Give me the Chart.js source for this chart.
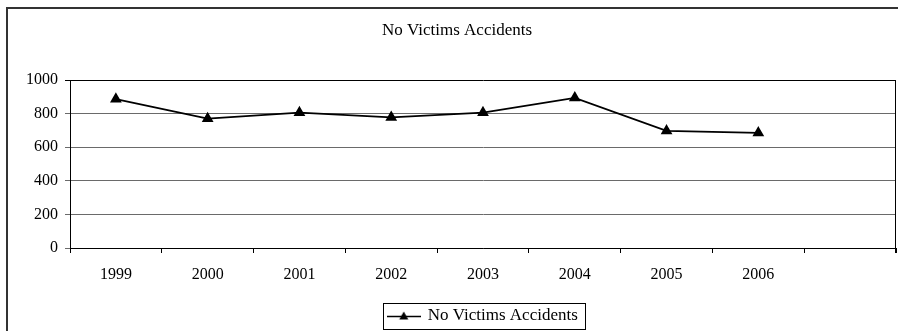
<!DOCTYPE html>
<html>
<head>
<meta charset="utf-8">
<script src="https://cdn.jsdelivr.net/npm/chart.js@4.4.1/dist/chart.umd.min.js"></script>
<style>
    body { margin: 0; background: #fff; }
    canvas { display: block; }
</style>
</head>
<body>
<canvas id="chart" width="898" height="331"></canvas>
<script>
// Data
const years = ["1999", "2000", "2001", "2002", "2003", "2004", "2005", "2006", ""];
const accidents = [886, 770, 806, 778, 806, 894, 697, 685];
const yTicks = [0, 200, 400, 600, 800, 1000];
const seriesName = "No Victims Accidents";

const serif = "'Liberation Serif', 'Times New Roman', serif";

// legend marker: line with a triangle
const marker = document.createElement("canvas");
marker.width = 34;
marker.height = 12;
const mctx = marker.getContext("2d");
mctx.strokeStyle = "#000";
mctx.lineWidth = 1.5;
mctx.beginPath();
mctx.moveTo(0, 6.5);
mctx.lineTo(34, 6.5);
mctx.stroke();
mctx.fillStyle = "#000";
mctx.beginPath();
mctx.moveTo(17, 1.5);
mctx.lineTo(21.5, 9.5);
mctx.lineTo(12.5, 9.5);
mctx.closePath();
mctx.fill();

// outer frame, plot border and legend box
const framePlugin = {
    id: "frame",
    beforeDraw(chart) {
        const ctx = chart.ctx;
        ctx.save();
        ctx.fillStyle = "#fff";
        ctx.fillRect(0, 0, chart.width, chart.height);
        ctx.strokeStyle = "#333";
        ctx.lineWidth = 2;
        ctx.beginPath();
        ctx.moveTo(7, chart.height);
        ctx.lineTo(7, 8);
        ctx.lineTo(chart.width, 8);
        ctx.stroke();
        ctx.restore();
    },
    afterDraw(chart) {
        const ctx = chart.ctx;
        const a = chart.chartArea;
        ctx.save();
        ctx.strokeStyle = "#000";
        ctx.lineWidth = 1;
        ctx.beginPath();
        ctx.moveTo(Math.round(a.right) - 0.5, a.top);
        ctx.lineTo(Math.round(a.right) - 0.5, a.bottom + 5);
        ctx.stroke();
        const hb = chart.legend.legendHitBoxes[0];
        if (hb) {
            const cy = hb.top + hb.height / 2;
            ctx.strokeRect(Math.round(hb.left - 5) + 0.5, Math.round(cy - 13) + 0.5,
                Math.round(hb.width + 12), 26);
        }
        ctx.restore();
    }
};

new Chart(document.getElementById("chart"), {
    type: "line",
    data: {
        labels: years,
        datasets: [{
            label: seriesName,
            data: accidents,
            borderColor: "#000",
            backgroundColor: "#000",
            borderWidth: 1.8,
            pointStyle: "triangle",
            pointRadius: 5,
            pointHoverRadius: 5,
            tension: 0
        }]
    },
    options: {
        responsive: false,
        animation: false,
        layout: { autoPadding: false, padding: { left: 18, right: 2, top: 0, bottom: -3.5 } },
        plugins: {
            title: {
                display: true,
                text: seriesName,
                color: "#000",
                font: { family: serif, size: 17, weight: "normal" },
                padding: { top: 20, bottom: 39.6 }
            },
            legend: {
                position: "bottom",
                fullSize: false,
                labels: {
                    usePointStyle: true,
                    pointStyleWidth: 31,
                    color: "#000",
                    font: { family: serif, size: 17 },
                    padding: 0,
                    generateLabels: chart => [{
                        text: seriesName,
                        pointStyle: marker,
                        fillStyle: "#000",
                        strokeStyle: "#000",
                        lineWidth: 0,
                        datasetIndex: 0
                    }]
                }
            },
            tooltip: { enabled: false }
        },
        scales: {
            x: {
                offset: true,
                grid: {
                    offset: true,
                    drawOnChartArea: false,
                    tickLength: 5,
                    color: "#000"
                },
                border: { color: "#000", width: 1 },
                ticks: {
                    color: "#000",
                    font: { family: serif, size: 16 },
                    padding: 12,
                    maxRotation: 0,
                    autoSkip: false
                },
                afterFit: scale => {
                    scale.height = 59.5;
                    scale.paddingLeft = 0;
                    scale.paddingRight = 0;
                }
            },
            y: {
                min: 0,
                max: 1000,
                afterBuildTicks: scale => { scale.ticks = yTicks.map(v => ({ value: v })); },
                grid: {
                    tickLength: 5,
                    color: ctx => ctx.tick && ctx.tick.value === 1000 ? "#000" : "#6a6a6a"
                },
                border: { color: "#000", width: 1 },
                ticks: {
                    color: "#000",
                    font: { family: serif, size: 16 },
                    padding: 7,
                    callback: v => String(v)
                },
                afterFit: scale => { scale.width = 52; }
            }
        }
    },
    plugins: [framePlugin]
});
</script>
</body>
</html>
